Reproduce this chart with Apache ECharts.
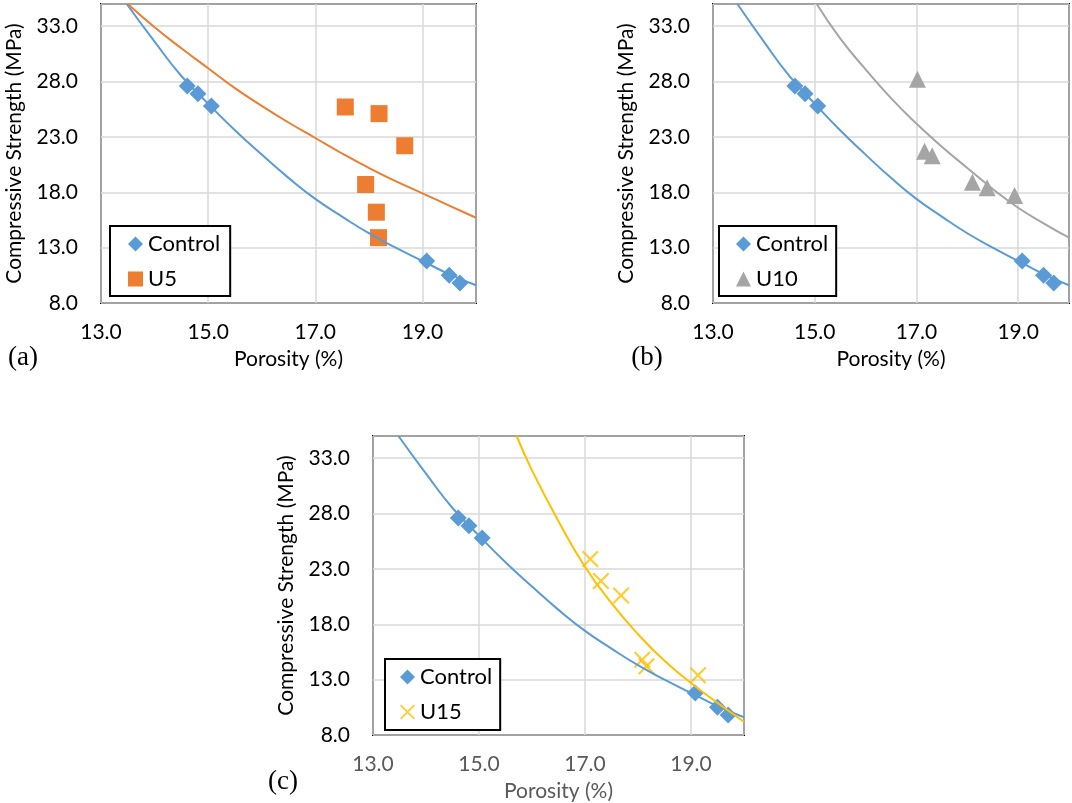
<!DOCTYPE html>
<html>
<head>
<meta charset="utf-8">
<script src="https://cdn.jsdelivr.net/npm/echarts@6/dist/echarts.min.js"></script>
<style>
  html, body { margin: 0; padding: 0; background: #fff; }
  #chart { width: 1072px; height: 803px; }
</style>
</head>
<body>
<div id="chart"></div>
<script>
// ---------- data ----------
const controlPorosity = [14.61, 14.81, 15.06, 19.08, 19.50, 19.70];
const controlStrength = [27.6, 26.9, 25.8, 11.8, 10.5, 9.8];

const u5Porosity = [17.56, 18.19, 18.67, 17.94, 18.14, 18.18];
const u5Strength = [25.7, 25.1, 22.2, 18.7, 16.2, 13.9];

const u10Porosity = [17.02, 17.16, 17.31, 18.10, 18.39, 18.93];
const u10Strength = [28.2, 21.7, 21.3, 18.9, 18.4, 17.7];

const u15Porosity = [17.10, 17.30, 17.68, 18.08, 18.16, 19.13];
const u15Strength = [23.9, 21.9, 20.6, 14.8, 14.2, 13.4];

// trend curves, points
const controlTrendX = [13.48, 14.0, 14.5, 15.0, 15.5, 16.0, 16.5, 17.0, 17.5, 18.0, 18.5, 19.0, 19.5, 20.0];
const controlTrendY = [35.0, 31.6, 28.5, 26.0, 23.6, 21.4, 19.3, 17.4, 15.8, 14.3, 13.0, 11.8, 10.6, 9.6];

const u5TrendX = [13.5, 14.0, 14.5, 15.0, 15.5, 16.0, 16.5, 17.0, 17.5, 18.0, 18.5, 19.0, 19.5, 20.0];
const u5TrendY = [35.0, 32.9, 31.0, 29.2, 27.4, 25.8, 24.3, 22.9, 21.5, 20.2, 19.0, 17.9, 16.8, 15.7];

const u10TrendX = [15.04, 15.5, 16.0, 16.5, 17.0, 17.5, 18.0, 18.5, 19.0, 19.5, 20.0];
const u10TrendY = [35.0, 31.9, 29.1, 26.5, 24.2, 22.1, 20.2, 18.3, 16.6, 15.2, 13.9];

const u15TrendX = [15.71, 16.0, 16.5, 17.0, 17.5, 18.0, 18.5, 19.0, 19.5, 20.0];
const u15TrendY = [35.0, 31.9, 27.3, 23.2, 19.9, 17.1, 14.7, 12.7, 10.9, 9.2];

const xTickLabels = ['13.0', '15.0', '17.0', '19.0'];
const yTickLabels = ['8.0', '13.0', '18.0', '23.0', '28.0', '33.0'];
const xTitle = 'Porosity (%)';
const yTitle = 'Compressive Strength (MPa)';
const panelLabels = ['(a)', '(b)', '(c)'];

// ---------- styling ----------
const FONT = 'Lato, "Liberation Sans", sans-serif';
const BLUE = '#5B9BD5', ORANGE = '#ED7D31', GRAY = '#A5A5A5', YELLOW = '#FFC000';
const X_SYMBOL = 'path://M0,0.9L0.9,0L10,9.1L9.1,10Z M9.1,0L10,0.9L0.9,10L0,9.1Z';

function pairs(xs, ys) { return xs.map((x, i) => [x, ys[i]]); }

const grids = [
  { left: 101, top: 4, width: 375, height: 299 },
  { left: 713, top: 4, width: 358, height: 299 },
  { left: 373, top: 436, width: 371, height: 299 }
];
const xLabelColors = ['#000', '#000', '#595959'];

const xAxes = grids.map((g, i) => ({
  type: 'value', gridIndex: i, min: 13, max: 20, interval: 2,
  axisLine: { show: false }, axisTick: { show: false },
  splitLine: { show: true, lineStyle: { color: '#D9D9D9', width: 1.5 } },
  axisLabel: {
    margin: 19, fontSize: 21, fontFamily: FONT, color: xLabelColors[i],
    formatter: v => { const s = v.toFixed(1); return xTickLabels.includes(s) ? s : ''; }
  },
  name: xTitle, nameLocation: 'middle', nameGap: 46,
  nameTextStyle: { fontSize: 21, fontFamily: FONT, color: xLabelColors[i] }
}));

const yAxes = grids.map((g, i) => ({
  type: 'value', gridIndex: i, min: 8, max: 35, interval: 5,
  axisLine: { show: false }, axisTick: { show: false },
  splitLine: { show: true, lineStyle: { color: '#D9D9D9', width: 1.5 } },
  axisLabel: {
    margin: 23, fontSize: 21, fontFamily: FONT, color: '#000',
    formatter: v => { const s = v.toFixed(1); return yTickLabels.includes(s) ? s : ''; }
  },
  name: yTitle, nameLocation: 'middle', nameGap: 76,
  nameTextStyle: { fontSize: 21, fontFamily: FONT, color: '#000' }
}));

function scatter(name, idx, xs, ys, symbol, size, color) {
  return {
    type: 'scatter', name, xAxisIndex: idx, yAxisIndex: idx,
    data: pairs(xs, ys), symbol, symbolSize: size,
    itemStyle: { color, opacity: 1 }, z: 2
  };
}
function trend(name, idx, xs, ys, color) {
  return {
    type: 'line', name, xAxisIndex: idx, yAxisIndex: idx,
    data: pairs(xs, ys), showSymbol: false, symbol: 'none',
    smooth: 0.5, silent: true,
    lineStyle: { color, width: 2 }, z: 3
  };
}

const series = [
  scatter('Control', 0, controlPorosity, controlStrength, 'diamond', 17, BLUE),
  scatter('U5', 0, u5Porosity, u5Strength, 'rect', 17, ORANGE),
  trend('Control trend a', 0, controlTrendX, controlTrendY, BLUE),
  trend('U5 trend', 0, u5TrendX, u5TrendY, ORANGE),

  scatter('Control', 1, controlPorosity, controlStrength, 'diamond', 17, BLUE),
  scatter('U10', 1, u10Porosity, u10Strength, 'triangle', 17, GRAY),
  trend('Control trend b', 1, controlTrendX, controlTrendY, BLUE),
  trend('U10 trend', 1, u10TrendX, u10TrendY, GRAY),

  scatter('Control', 2, controlPorosity, controlStrength, 'diamond', 17, BLUE),
  {
    type: 'scatter', name: 'U15', xAxisIndex: 2, yAxisIndex: 2,
    data: pairs(u15Porosity, u15Strength), symbol: X_SYMBOL, symbolSize: 17,
    itemStyle: { color: YELLOW }, z: 2
  },
  trend('Control trend c', 2, controlTrendX, controlTrendY, BLUE),
  trend('U15 trend', 2, u15TrendX, u15TrendY, YELLOW)
];

function legend(data, left, top, padding) {
  return {
    data, left, top, orient: 'vertical', padding,
    itemWidth: 15, itemHeight: 15, itemGap: 13,
    backgroundColor: '#fff', borderColor: '#000', borderWidth: 2,
    textStyle: { fontSize: 22, fontFamily: FONT, color: '#000', lineHeight: 20 },
    selectedMode: false
  };
}

const option = {
  animation: false,
  backgroundColor: '#fff',
  grid: grids.map(g => Object.assign({ show: true, borderColor: '#000', borderWidth: 2, backgroundColor: 'transparent' }, g)),
  xAxis: xAxes,
  yAxis: yAxes,
  legend: [
    legend(['Control', 'U5'], 110, 226, [7, 10, 6, 18]),
    legend(['Control', 'U10'], 719, 226, [7, 8, 6, 17]),
    legend(['Control', 'U15'], 385, 659, [7, 8, 7, 15])
  ],
  graphic: [
    { type: 'text', x: 23, y: 358, style: { text: panelLabels[0], fontSize: 27, fontFamily: '"Liberation Serif", serif', fill: '#000', align: 'center', verticalAlign: 'middle' } },
    { type: 'text', x: 647, y: 358, style: { text: panelLabels[1], fontSize: 27, fontFamily: '"Liberation Serif", serif', fill: '#000', align: 'center', verticalAlign: 'middle' } },
    { type: 'text', x: 283, y: 782, style: { text: panelLabels[2], fontSize: 27, fontFamily: '"Liberation Serif", serif', fill: '#000', align: 'center', verticalAlign: 'middle' } }
  ],
  series
};

const chart = echarts.init(document.getElementById('chart'), null, { renderer: 'canvas' });
chart.setOption(option);
</script>
</body>
</html>
